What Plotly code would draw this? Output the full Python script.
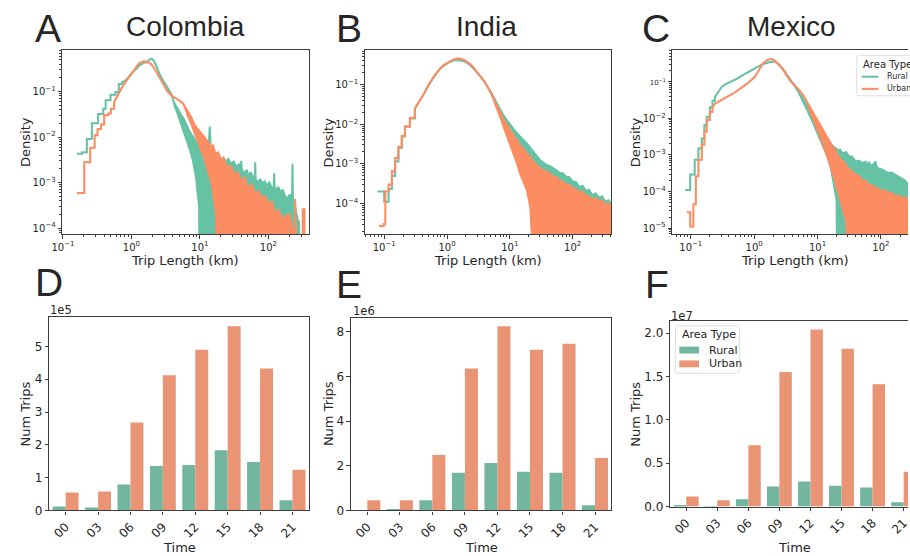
import plotly.graph_objects as go

W, H = 910, 556
EMPTY = 1e-9  # density of empty bins; sits below every log y range

RURAL_LINE, URBAN_LINE = "#66c2a5", "#fc8d62"
RURAL_BAR, URBAN_BAR = "#72b6a0", "#e99575"
INK = "#262626"
SPINE = "#3c3c3c"
AX_FONT = "DejaVu Sans"
HEAD_FONT = "Liberation Sans"

# ---------------- trip length distributions (density histograms) ----------------
# Each series: wide bins at short distances (edges + densities), then the finely
# binned part sampled as (x, upper density). In the long tail the narrow bins scatter
# between the upper values and the *_lo values listed from *_lo_from onwards;
# after the last *_lo value the lower envelope reaches empty bins.

# Colombia - rural
col_r_edges = [0.16, 0.19, 0.223, 0.264, 0.326, 0.389, 0.42, 0.495, 0.585, 0.653, 0.729]
col_r_steps = [4.3e-3, 4.6e-3, 9.1e-3, 2.0e-2, 3.2e-2, 4.2e-2, 6.4e-2, 8.5e-2, 9.8e-2, 0.147]
col_r_x = [0.729, 0.80, 0.86, 0.94, 1.02, 1.1, 1.2, 1.3, 1.41, 1.52,
           1.63, 1.75, 1.86, 1.98, 2.13, 2.25, 2.38, 2.55, 2.74, 3.0,
           3.24, 3.5, 3.8, 4.0, 4.27, 4.6, 4.93, 5.3, 5.75, 6.2,
           6.6, 7.1, 7.7, 8.2, 8.7, 9.1, 9.6, 10.0, 10.5, 11.0,
           11.6, 12.2, 12.8, 13.4, 13.9, 14.4, 15.2, 16.1, 17.0, 18.0,
           19.0, 20.5, 22, 24, 26, 28.5, 31, 34, 37, 39,
           40, 41, 44, 48, 51, 55, 60, 63, 64, 65,
           70, 76, 82, 88, 95, 103, 112, 119, 121, 123,
           130, 140, 150, 162, 175, 190, 205, 220, 224, 228,
           240, 255, 270, 280, 281]
col_r_hi = [0.16, 0.17, 0.19, 0.22, 0.26, 0.29, 0.32, 0.37, 0.40, 0.44,
            0.43, 0.48, 0.51, 0.53, 0.47, 0.40, 0.31, 0.25, 0.20, 0.16,
            0.135, 0.11, 0.089, 0.07, 0.054, 0.045, 0.036, 0.031, 0.026, 0.020,
            0.017, 0.013, 0.011, 0.0095, 0.0085, 0.0072, 0.0070, 0.0062, 0.0068, 0.0059,
            0.0070, 0.0057, 0.0049, 0.0060, 0.017, 0.0052, 0.0044, 0.0040, 0.0046, 0.0036,
            0.0040, 0.0032, 0.0035, 0.0029, 0.0033, 0.0026, 0.0029, 0.0022, 0.0025, 0.0019,
            0.0030, 0.0019, 0.0016, 0.0019, 0.0014, 0.0017, 0.0013, 0.0012, 0.0028, 0.0012,
            0.0010, 0.0012, 0.0009, 0.0011, 0.00085, 0.0010, 0.00075, 0.0008, 0.0016, 0.0008,
            0.0007, 0.0008, 0.0006, 0.0007, 0.0005, 0.00045, 0.00055, 0.0004, 0.0026, 0.0003,
            0.00035, 0.0002, 0.00014, 0.00014, EMPTY]
col_r_lo_from = 4.27
col_r_lo = [0.045, 0.034, 0.025, 0.019, 0.014, 0.010, 0.0075, 0.005, 0.0033, 0.002,
            0.0012, 0.0006, 0.0003]

# Colombia - urban
col_u_edges = [0.16, 0.205, 0.25, 0.29, 0.32, 0.36, 0.40, 0.46, 0.50, 0.56]
col_u_steps = [5.9e-4, 2.8e-3, 5.8e-3, 1.1e-2, 1.5e-2, 1.9e-2, 3.0e-2, 3.3e-2, 4.2e-2]
col_u_x = [0.56, 0.64, 0.73, 0.86, 1.0, 1.15, 1.3, 1.5, 1.7, 1.95,
           2.2, 2.5, 2.9, 3.3, 3.8, 4.4, 5.0, 5.7, 6.5, 7.4,
           8.4, 9.6, 11, 12.5, 14.5, 15.5, 17, 18.5, 20, 22,
           25, 28, 32, 36, 40, 45, 50, 57, 65, 72,
           80, 90, 100, 112, 125, 140, 160, 180, 200, 215,
           230, 240, 245, 250, 255, 315, 316, 335, 336]
col_u_hi = [5.9e-2, 8.9e-2, 0.124, 0.18, 0.25, 0.34, 0.42, 0.46, 0.45, 0.40,
            0.31, 0.22, 0.147, 0.105, 0.082, 0.072, 0.064, 0.054, 0.039, 0.028,
            0.018, 0.0143, 0.0112, 0.0087, 0.0062, 0.0066, 0.0041, 0.0046, 0.0032, 0.0035,
            0.0021, 0.0024, 0.0015, 0.0017, 0.00108, 0.0013, 0.00078, 0.0009, 0.00055, 0.00065,
            0.00044, 0.0005, 0.00034, 0.00038, 0.0002, 0.00026, 0.00015, 0.00019, 0.0002, 0.00011,
            7.6e-5, 1.0e-4, 4.4e-4, 1.2e-4, EMPTY, EMPTY, 2.6e-4, 2.6e-4, EMPTY]
col_u_lo_from = 6.5
col_u_lo = [0.030, 0.019, 0.011, 0.0065, 0.004, 0.0022, 0.001, 0.0005, 0.0002]

# India - rural
ind_r_edges = [0.0786, 0.1, 0.117, 0.132, 0.149, 0.168, 0.19, 0.214, 0.256, 0.307]
ind_r_steps = [2.0e-4, 1.1e-4, 2.3e-4, 4.9e-4, 1.15e-3, 2.5e-3, 4.9e-3, 8.7e-3, 0.014]
ind_x = [0.307, 0.35, 0.39, 0.44, 0.50, 0.56, 0.63, 0.72, 0.81, 0.91,
         1.02, 1.15, 1.30, 1.47, 1.66, 1.87, 2.11, 2.39, 2.69, 3.04,
         3.42, 3.87, 4.36, 4.92, 5.54, 6.25, 7.05, 7.95, 8.97, 10.1,
         11.4, 12.9, 14.5, 16.4, 18.5, 20.9, 23.5, 26.5, 29.9, 33.8,
         38, 43, 48.5, 54.7, 61.7, 69.6, 78.5, 88.6, 100, 113,
         127, 143, 162, 183, 206, 232, 262, 295, 333, 376, 420]
ind_r_hi = [0.025, 0.034, 0.044, 0.062, 0.094, 0.125, 0.168, 0.22, 0.27, 0.31,
            0.35, 0.38, 0.41, 0.42, 0.41, 0.39, 0.35, 0.30, 0.245, 0.20,
            0.16, 0.125, 0.094, 0.068, 0.048, 0.033, 0.0225, 0.0165, 0.0126, 0.0098,
            0.0078, 0.0060, 0.0049, 0.0041, 0.0033, 0.0026, 0.0020, 0.0016, 0.00127, 0.0011,
            0.00095, 0.00088, 0.00079, 0.0007, 0.00059, 0.00058, 0.00047, 0.00046, 0.00036, 0.00035,
            0.00026, 0.00028, 0.00021, 0.00022, 0.00016, 0.00018, 0.00014, 0.00015, 0.00011, 0.00012, 0.00009]
ind_r_lo_from = 6.25
ind_r_lo = [0.027, 0.019, 0.011, 0.0065, 0.004, 0.0025, 0.0015, 0.0009, 0.00055, 0.00032,
            0.00018, 0.0001]

# India - urban
ind_u_edges = [0.082, 0.098, 0.104, 0.117, 0.132, 0.149, 0.168, 0.19, 0.214, 0.256, 0.307]
ind_u_steps = [2.7e-5, 3.0e-5, 2.0e-4, 3.0e-4, 6.5e-4, 1.4e-3, 2.7e-3, 5.1e-3, 8.7e-3, 0.0145]
ind_u_hi = [0.025, 0.034, 0.046, 0.064, 0.094, 0.127, 0.17, 0.225, 0.275, 0.32,
            0.36, 0.40, 0.44, 0.455, 0.45, 0.42, 0.375, 0.32, 0.26, 0.205,
            0.16, 0.122, 0.091, 0.064, 0.044, 0.029, 0.0185, 0.013, 0.0095, 0.007,
            0.0051, 0.0039, 0.0030, 0.0024, 0.00186, 0.0015, 0.00115, 0.00095, 0.00079, 0.0007,
            0.00063, 0.00058, 0.00047, 0.00047, 0.00038, 0.00036, 0.00029, 0.0003, 0.00024, 0.00023,
            0.00019, 0.0002, 0.00016, 0.00015, 0.00012, 0.00014, 0.00011, 0.00012, 0.00009, 0.0001, 0.000085]
ind_u_lo_from = 5.54
ind_u_lo = [0.038, 0.024, 0.014, 0.008, 0.0049, 0.003, 0.0017, 0.001, 0.00054, 0.00032,
            0.00021, 0.00008]

# Mexico - rural
mex_r_edges = [0.082, 0.098, 0.115, 0.132, 0.149, 0.164, 0.178, 0.20, 0.22, 0.24]
mex_r_steps = [1.1e-4, 2.9e-4, 7.4e-4, 1.5e-3, 2.8e-3, 6.5e-3, 0.011, 0.020, 0.030]
mex_r_x = [0.24, 0.27, 0.304, 0.35, 0.41, 0.48, 0.55, 0.66, 0.79, 0.95,
           1.13, 1.35, 1.61, 1.8, 2.0, 2.2, 2.44, 2.75, 3.1, 3.5,
           3.93, 4.43, 4.99, 5.6, 6.3, 7.1, 8.0, 9.0, 10.2, 11.5,
           12.9, 14.5, 16.4, 18, 19.6, 21, 22.5, 25, 28, 31.6,
           35, 40, 45, 51, 57, 62, 65, 70, 76, 82,
           85, 92, 104, 115, 132, 148, 167, 190, 213, 240,
           257, 290, 330, 400]
mex_r_hi = [0.038, 0.052, 0.070, 0.085, 0.096, 0.11, 0.123, 0.15, 0.178, 0.22,
            0.26, 0.30, 0.33, 0.35, 0.355, 0.34, 0.30, 0.24, 0.178, 0.13,
            0.096, 0.075, 0.057, 0.04, 0.028, 0.019, 0.0134, 0.0098, 0.0072, 0.005,
            0.0035, 0.0028, 0.0019, 0.0017, 0.0015, 0.0013, 0.0014, 0.0011, 0.0012, 0.00091,
            0.0009, 0.00066, 0.0007, 0.0006, 0.00065, 0.00054, 0.00062, 0.0005, 0.00055, 0.00066,
            0.00048, 0.00042, 0.0004, 0.00036, 0.00032, 0.00033, 0.00029, 0.00025, 0.000215, 0.0002,
            0.00017, 0.00016, 0.00014, 0.00012]
mex_r_lo_from = 4.99
mex_r_lo = [0.05, 0.034, 0.022, 0.014, 0.009, 0.0055, 0.0035, 0.0022, 0.0013, 0.0008,
            0.00035, 0.00015, 0.00006]

# Mexico - urban
mex_u_edges = [0.087, 0.098, 0.11, 0.12, 0.132, 0.149, 0.164, 0.178, 0.20, 0.22]
mex_u_steps = [2.7e-5, 1.1e-5, 4.5e-5, 2.6e-4, 7.4e-4, 1.9e-3, 4.3e-3, 8.9e-3, 0.0149]
mex_u_x = [0.22, 0.24, 0.27, 0.304, 0.35, 0.41, 0.48, 0.55, 0.62, 0.70,
           0.79, 0.89, 1.0, 1.13, 1.24, 1.35, 1.48, 1.61, 1.77, 1.93,
           2.1, 2.3, 2.6, 2.92, 3.3, 3.7, 4.2, 4.7, 5.3, 5.97,
           6.7, 7.56, 8.5, 9.6, 10.8, 12.2, 13.7, 15.5, 17.4, 19.6,
           22, 25, 28, 31.6, 35, 40, 45, 51, 57, 65,
           72, 82, 92, 104, 117, 132, 148, 167, 190, 213,
           240, 257, 290, 330, 400]
mex_u_hi = [0.020, 0.025, 0.028, 0.031, 0.036, 0.042, 0.049, 0.057, 0.066, 0.078,
            0.09, 0.106, 0.13, 0.178, 0.23, 0.30, 0.35, 0.39, 0.41, 0.41,
            0.38, 0.33, 0.26, 0.20, 0.14, 0.106, 0.085, 0.070, 0.055, 0.042,
            0.03, 0.020, 0.014, 0.010, 0.007, 0.0048, 0.0033, 0.0023, 0.0016, 0.0011,
            0.00085, 0.00066, 0.00055, 0.00039, 0.00036, 0.00028, 0.00027, 0.0002, 0.0002, 0.00015,
            0.00015, 0.00012, 0.00012, 0.0001, 0.00011, 0.000088, 0.000092, 0.000074, 0.000078, 0.000066,
            0.00007, 0.00006, 0.000064, 0.000054, 0.000052]
mex_u_lo_from = 7.56
mex_u_lo = [0.015, 0.009, 0.0053, 0.003, 0.0019, 0.001, 0.00054, 0.0003, 0.00013, 7e-5,
            3e-5, 1.5e-5]

# ---------------- trips by time of day ----------------
times = ["00", "03", "06", "09", "12", "15", "18", "21"]
col_trips_rural = [12000, 9000, 79000, 136000, 139000, 184000, 148000, 31000]
col_trips_urban = [55000, 58000, 268000, 412000, 490000, 562000, 433000, 124000]
ind_trips_rural = [20000, 60000, 460000, 1690000, 2130000, 1730000, 1690000, 230000]
ind_trips_urban = [460000, 460000, 2480000, 6360000, 8250000, 7200000, 7460000, 2350000]
mex_trips_rural = [150000, 20000, 830000, 2300000, 2900000, 2400000, 2200000, 500000]
mex_trips_urban = [1170000, 720000, 7080000, 15500000, 20400000, 18200000, 14100000, 4000000]


def histogram_path(edges, steps, xs, hi, lo_from, lo):
    """Outline of a step histogram: wide bins as steps, then the finely binned part."""
    px, up, dn = [], [], []
    for i, d in enumerate(steps):
        px += [edges[i], edges[i + 1]]
        up += [d, d]
        dn += [d, d]
    k0 = next(i for i, x in enumerate(xs) if x >= lo_from)
    for i, (x, h) in enumerate(zip(xs, hi)):
        px.append(x)
        up.append(h)
        if i < k0:
            dn.append(h)
        elif i - k0 < len(lo):
            dn.append(min(lo[i - k0], h))
        else:
            dn.append(EMPTY)
    return px, up, dn


fig = go.Figure()

hist_series = [
    ("x", "y", [(col_r_edges, col_r_steps, col_r_x, col_r_hi, col_r_lo_from, col_r_lo, RURAL_LINE),
                (col_u_edges, col_u_steps, col_u_x, col_u_hi, col_u_lo_from, col_u_lo, URBAN_LINE)]),
    ("x2", "y2", [(ind_r_edges, ind_r_steps, ind_x, ind_r_hi, ind_r_lo_from, ind_r_lo, RURAL_LINE),
                  (ind_u_edges, ind_u_steps, ind_x, ind_u_hi, ind_u_lo_from, ind_u_lo, URBAN_LINE)]),
    ("x3", "y3", [(mex_r_edges, mex_r_steps, mex_r_x, mex_r_hi, mex_r_lo_from, mex_r_lo, RURAL_LINE),
                  (mex_u_edges, mex_u_steps, mex_u_x, mex_u_hi, mex_u_lo_from, mex_u_lo, URBAN_LINE)]),
]
for xa, ya, series in hist_series:
    for edges, steps, xs, hi, lo_from, lo, color in series:
        px, up, dn = histogram_path(edges, steps, xs, hi, lo_from, lo)
        fig.add_trace(go.Scatter(x=px, y=dn, mode="lines", xaxis=xa, yaxis=ya,
                                 line=dict(color=color, width=1.2), showlegend=False,
                                 hoverinfo="skip"))
        fig.add_trace(go.Scatter(x=px, y=up, mode="lines", xaxis=xa, yaxis=ya,
                                 line=dict(color=color, width=2), fill="tonexty",
                                 fillcolor=color, showlegend=False))

bar_sets = [("x4", "y4", col_trips_rural, col_trips_urban),
            ("x5", "y5", ind_trips_rural, ind_trips_urban),
            ("x6", "y6", mex_trips_rural, mex_trips_urban)]
for xa, ya, rural, urban in bar_sets:
    fig.add_trace(go.Bar(x=times, y=rural, xaxis=xa, yaxis=ya, name="Rural",
                         marker=dict(color=RURAL_BAR, line=dict(width=0)),
                         offsetgroup="rural", showlegend=False))
    fig.add_trace(go.Bar(x=times, y=urban, xaxis=xa, yaxis=ya, name="Urban",
                         marker=dict(color=URBAN_BAR, line=dict(width=0)),
                         offsetgroup="urban", showlegend=False))


def dom_x(a, b):
    return [a / W, min(b / W, 1.0)]


def dom_y(top, bottom):
    return [1 - bottom / H, 1 - top / H]


def sup(e):
    return "10<sup>" + ("−" + str(-e) if e < 0 else str(e)) + "</sup>"


minor_vals = [m * 10.0 ** e for e in range(-6, 3) for m in range(2, 10)]
tick_common = dict(ticks="outside", ticklen=3.5, tickwidth=1, tickcolor=SPINE,
                   showline=True, linecolor=SPINE, linewidth=1.2, showgrid=False,
                   zeroline=False, tickfont=dict(family=AX_FONT, size=10, color=INK))


def log_x(domain, rng, mirror=True):
    return dict(type="log", domain=domain, range=rng, tickmode="array",
                tickvals=[0.1, 1, 10, 100], ticktext=[sup(e) for e in (-1, 0, 1, 2)],
                mirror=mirror,
                minor=dict(tickvals=minor_vals, ticks="outside", ticklen=2,
                           tickcolor=SPINE, showgrid=False),
                **tick_common)


def log_y(domain, rng, exps, anchor, texts=None, mirror=True):
    return dict(type="log", domain=domain, range=rng, tickmode="array",
                tickvals=[10.0 ** e for e in exps],
                ticktext=texts or [sup(e) for e in exps], anchor=anchor, mirror=mirror,
                minor=dict(tickvals=minor_vals, ticks="outside", ticklen=2,
                           tickcolor=SPINE, showgrid=False),
                **tick_common)


bar_tick = dict(tick_common, tickfont=dict(family=AX_FONT, size=12, color=INK))


def cat_x(domain, rng, anchor, mirror=True):
    d = dict(bar_tick, mirror=mirror)
    return dict(type="category", domain=domain, range=rng, categoryorder="array",
                categoryarray=times, tickangle=-45, anchor=anchor, **d)


def lin_y(domain, top, vals, texts, anchor, mirror=True):
    d = dict(bar_tick, mirror=mirror)
    return dict(domain=domain, range=[0, top], tickmode="array", tickvals=vals,
                ticktext=texts, anchor=anchor, **d)


top_row = dom_y(51, 237)
mex_texts = ['<span style="font-size:7px">10<sup>−1</sup></span>'] + [sup(e) for e in (-2, -3, -4, -5)]
mex_exps = [-1, -2, -3, -4, -5]

fig.update_layout(
    width=W, height=H, margin=dict(l=0, r=0, t=0, b=0),
    paper_bgcolor="white", plot_bgcolor="white",
    barmode="group", bargap=0.2, bargroupgap=0,
    showlegend=False,
    xaxis=dict(log_x(dom_x(52, 302), [-1.01, 2.587]), anchor="y"),
    yaxis=log_y(top_row, [-4.13, -0.095], [-1, -2, -3, -4], "x"),
    xaxis2=dict(log_x(dom_x(359, 609), [-1.309, 2.616]), anchor="y2"),
    yaxis2=log_y(top_row, [-4.773, -0.135], [-1, -2, -3, -4], "x2"),
    xaxis3=dict(log_x(dom_x(671, 910), [-1.29, 2.427]), anchor="y3"),
    yaxis3=log_y(top_row, [-5.162, -0.145], mex_exps, "x3", texts=mex_texts, mirror=False),
    xaxis4=cat_x(dom_x(39, 302), [-0.5, 7.5], "y4"),
    yaxis4=lin_y(dom_y(321, 517), 5.9e5, [0, 1e5, 2e5, 3e5, 4e5, 5e5],
                 ["0", "1", "2", "3", "4", "5"], "x4"),
    xaxis5=cat_x(dom_x(345, 609), [-0.5, 7.5], "y5"),
    yaxis5=lin_y(dom_y(322, 517), 8.62e6, [0, 2e6, 4e6, 6e6, 8e6],
                 ["0", "2", "4", "6", "8"], "x5"),
    xaxis6=cat_x(dom_x(669, 910), [-0.508, 7.14], "y6"),
    yaxis6=lin_y(dom_y(325, 513), 2.14e7, [0, 0.5e7, 1e7, 1.5e7, 2e7],
                 ["0.0", "0.5", "1.0", "1.5", "2.0"], "x6", mirror=False),
)


def note(s, x, y, size, family=AX_FONT, xanchor="center", yanchor="middle", angle=0):
    return dict(text=s, x=x / W, y=1 - y / H, xref="paper", yref="paper",
                showarrow=False, font=dict(size=size, family=family, color=INK),
                xanchor=xanchor, yanchor=yanchor, textangle=angle)


notes = [
    # panel letters and country titles
    note("A", 22, 29, 39, HEAD_FONT, xanchor="left"),
    note("B", 328, 29, 39, HEAD_FONT, xanchor="left"),
    note("C", 638, 29, 39, HEAD_FONT, xanchor="left"),
    note("D", 22, 286, 39, HEAD_FONT, xanchor="left"),
    note("E", 328, 288, 39, HEAD_FONT, xanchor="left"),
    note("F", 641, 288, 39, HEAD_FONT, xanchor="left"),
    note("Colombia", 177, 27, 28, HEAD_FONT),
    note("India", 482, 27, 28, HEAD_FONT),
    note("Mexico", 792, 27, 28, HEAD_FONT),
    # axis titles
    note("Density", 14, 144, 13, angle=-90),
    note("Density", 322, 144, 13, angle=-90),
    note("Density", 633, 144, 13, angle=-90),
    note("Trip Length (km)", 177, 264, 13),
    note("Trip Length (km)", 484, 264, 13),
    note("Trip Length (km)", 795, 264, 13),
    note("Num Trips", 15, 419, 13, angle=-90),
    note("Num Trips", 322, 419, 13, angle=-90),
    note("Num Trips", 634, 419, 13, angle=-90),
    note("Time", 171, 554, 13),
    note("Time", 477, 554, 13),
    note("Time", 795, 554, 13),
    # scale factors of the count axes
    note("1e5", 38, 314, 11.5, xanchor="left"),
    note("1e6", 345, 315, 11.5, xanchor="left"),
    note("1e7", 668, 320, 11.5, xanchor="left"),
    # legend texts
    note("Area Type", 862, 65, 10, xanchor="left"),
    note("Rural", 887, 77.5, 8, xanchor="left"),
    note("Urban", 887, 90, 8, xanchor="left"),
    note("Area Type", 679, 339, 11, xanchor="left"),
    note("Rural", 706, 354.5, 11, xanchor="left"),
    note("Urban", 706, 368.5, 11, xanchor="left"),
]


def P(x, y):
    return f"{x / W:.5f},{1 - y / H:.5f}"


def rounded_box(x0, y0, x1, y1, r):
    return (f"M{P(x0 + r, y0)} L{P(x1 - r, y0)} Q{P(x1, y0)} {P(x1, y0 + r)} "
            f"L{P(x1, y1 - r)} Q{P(x1, y1)} {P(x1 - r, y1)} L{P(x0 + r, y1)} "
            f"Q{P(x0, y1)} {P(x0, y1 - r)} L{P(x0, y0 + r)} Q{P(x0, y0)} {P(x0 + r, y0)} Z")


def rect(x0, y0, x1, y1, color):
    return dict(type="rect", xref="paper", yref="paper", x0=x0 / W, x1=x1 / W,
                y0=1 - y1 / H, y1=1 - y0 / H, fillcolor=color, line=dict(width=0))


def hline(x0, x1, y, color):
    return dict(type="line", xref="paper", yref="paper", x0=x0 / W, x1=x1 / W,
                y0=1 - y / H, y1=1 - y / H, line=dict(color=color, width=2))


shapes = [
    dict(type="path", xref="paper", yref="paper", path=rounded_box(858, 56, 940, 97, 3),
         fillcolor="rgba(255,255,255,0.85)", line=dict(color="#d4d4d4", width=0.8)),
    hline(863, 880, 77.7, RURAL_LINE),
    hline(863, 880, 90, URBAN_LINE),
    dict(type="path", xref="paper", yref="paper", path=rounded_box(674, 330, 739, 378, 3),
         fillcolor="rgba(255,255,255,0.85)", line=dict(color="#d4d4d4", width=0.8)),
    rect(678, 351, 698, 358, RURAL_BAR),
    rect(678, 365, 698, 372, URBAN_BAR),
]

fig.update_layout(annotations=notes, shapes=shapes)
fig.write_html("out.html")
